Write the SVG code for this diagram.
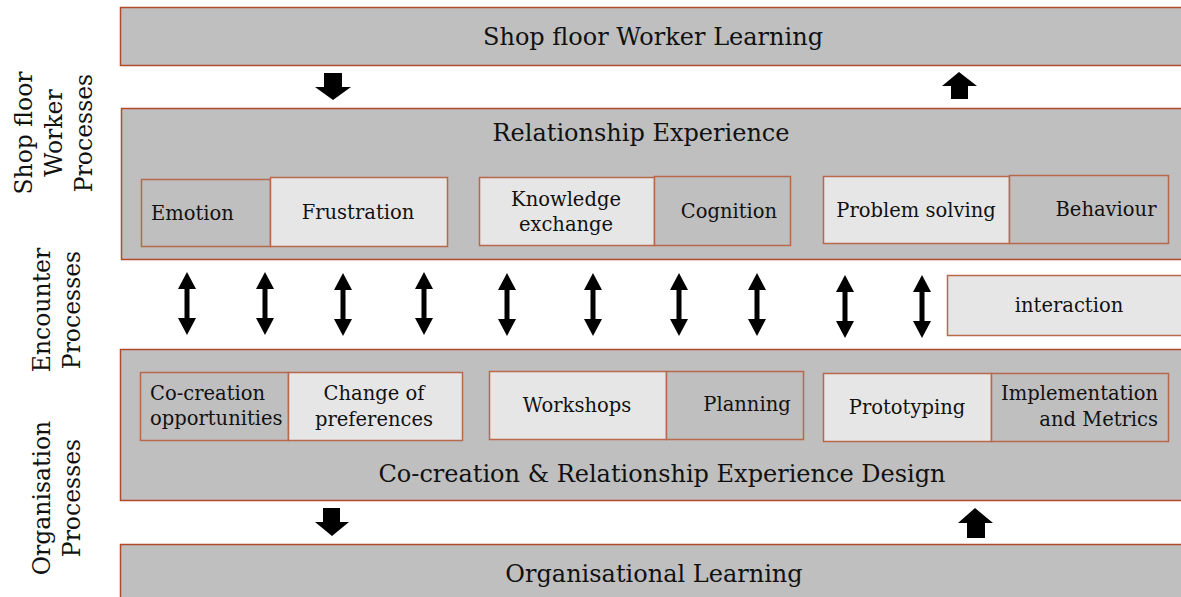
<svg xmlns="http://www.w3.org/2000/svg" width="1181" height="597" viewBox="0 0 1181 597">
<style>
.big{fill:#bfbfbf;stroke:#b04a2a;stroke-width:1.5}
.dk{fill:#bfbfbf;stroke:#b8684c;stroke-width:1.5}
.lt{fill:#e7e6e6;stroke:#b8684c;stroke-width:1.5}
text{font-family:"DejaVu Serif","Liberation Serif",serif;fill:#111}
.t1{font-size:24px;text-anchor:middle}
.t2{font-size:19.5px;text-anchor:middle}
.side{font-size:23.5px;text-anchor:middle}
.ar{fill:#000}
</style>
<defs>
<path id="dbl" d="M0,0 L9,17 L2.5,17 L2.5,46 L9,46 L0,63 L-9,46 L-2.5,46 L-2.5,17 L-9,17 Z"/>
</defs>
<rect width="1181" height="597" fill="#fff"/>

<g id="side-labels">
<text class="side" transform="translate(54,133) rotate(-90)"><tspan x="0" y="-22">Shop floor</tspan><tspan x="0" y="8">Worker</tspan><tspan x="0" y="38">Processes</tspan></text>
<text class="side" transform="translate(57,310) rotate(-90)"><tspan x="0" y="-7">Encounter</tspan><tspan x="0" y="23">Processes</tspan></text>
<text class="side" transform="translate(57,498) rotate(-90)"><tspan x="0" y="-7">Organisation</tspan><tspan x="0" y="23">Processes</tspan></text>
</g>

<g id="shopfloor-learning">
<rect class="big" x="120.5" y="7.5" width="1070" height="58"/>
<text class="t1" x="653" y="45">Shop floor Worker Learning</text>
</g>

<g id="relationship-experience">
<rect class="big" x="121.5" y="108.5" width="1070" height="151"/>
<text class="t1" x="641" y="141">Relationship Experience</text>
</g>
<g id="emotion"><rect class="dk" x="141.5" y="179.5" width="129" height="67"/><text class="t2" x="151" y="220" style="text-anchor:start">Emotion</text></g>
<g id="frustration"><rect class="lt" x="270.5" y="177.5" width="177" height="69"/><text class="t2" x="358" y="219">Frustration</text></g>
<g id="knowledge-exchange"><rect class="lt" x="479.5" y="177.5" width="175" height="68"/><text class="t2" x="566" y="206">Knowledge<tspan x="566" y="231">exchange</tspan></text></g>
<g id="cognition"><rect class="dk" x="654.5" y="176.5" width="136" height="69"/><text class="t2" x="729" y="218">Cognition</text></g>
<g id="problem-solving"><rect class="lt" x="823.5" y="176.5" width="186" height="67"/><text class="t2" x="916" y="217">Problem solving</text></g>
<g id="behaviour"><rect class="dk" x="1009.5" y="175.5" width="159" height="68"/><text class="t2" x="1106" y="216">Behaviour</text></g>

<g id="interaction"><rect class="lt" x="947.5" y="275.5" width="243" height="60"/><text class="t2" x="1069" y="312">interaction</text></g>

<g id="co-creation-design">
<rect class="big" x="120.5" y="349.5" width="1070" height="151"/>
<text class="t1" x="662" y="482">Co-creation &amp; Relationship Experience Design</text>
</g>
<g id="cocreation-opportunities"><rect class="dk" x="140.5" y="372.5" width="148" height="68"/><text class="t2" x="150" y="400" style="text-anchor:start">Co-creation<tspan x="150" y="425">opportunities</tspan></text></g>
<g id="change-of-preferences"><rect class="lt" x="288.5" y="372.5" width="174" height="68"/><text class="t2" x="374" y="400">Change of<tspan x="374" y="426">preferences</tspan></text></g>
<g id="workshops"><rect class="lt" x="489.5" y="371.5" width="177" height="68"/><text class="t2" x="577" y="412">Workshops</text></g>
<g id="planning"><rect class="dk" x="666.5" y="371.5" width="137" height="68"/><text class="t2" x="747" y="411">Planning</text></g>
<g id="prototyping"><rect class="lt" x="823.5" y="373.5" width="168" height="68"/><text class="t2" x="907" y="414">Prototyping</text></g>
<g id="implementation-metrics"><rect class="dk" x="991.5" y="373.5" width="177" height="68"/><text class="t2" x="1158" y="400" style="text-anchor:end">Implementation<tspan x="1158" y="426">and Metrics</tspan></text></g>

<g id="organisational-learning">
<rect class="big" x="120.5" y="544.5" width="1070" height="60"/>
<text class="t1" x="654" y="582">Organisational Learning</text>
</g>

<g id="connectors" class="ar">
<path d="M324,73 H342 V87 H351 L333,100 L315,87 H324 Z"/>
<path d="M959,72 L977,86 H968 V99 H951 V86 H942 Z"/>
<path d="M323,508 H340 V522 H349 L332,536 L315,522 H323 Z"/>
<path d="M975,508 L993,523 H985 V538 H967 V523 H958 Z"/>
<use href="#dbl" x="187" y="272"/>
<use href="#dbl" x="265" y="272"/>
<use href="#dbl" x="343" y="273"/>
<use href="#dbl" x="424" y="272"/>
<use href="#dbl" x="507" y="273"/>
<use href="#dbl" x="593" y="273"/>
<use href="#dbl" x="679" y="273"/>
<use href="#dbl" x="757" y="273"/>
<use href="#dbl" x="845" y="275"/>
<use href="#dbl" x="922" y="275"/>
</g>
</svg>
